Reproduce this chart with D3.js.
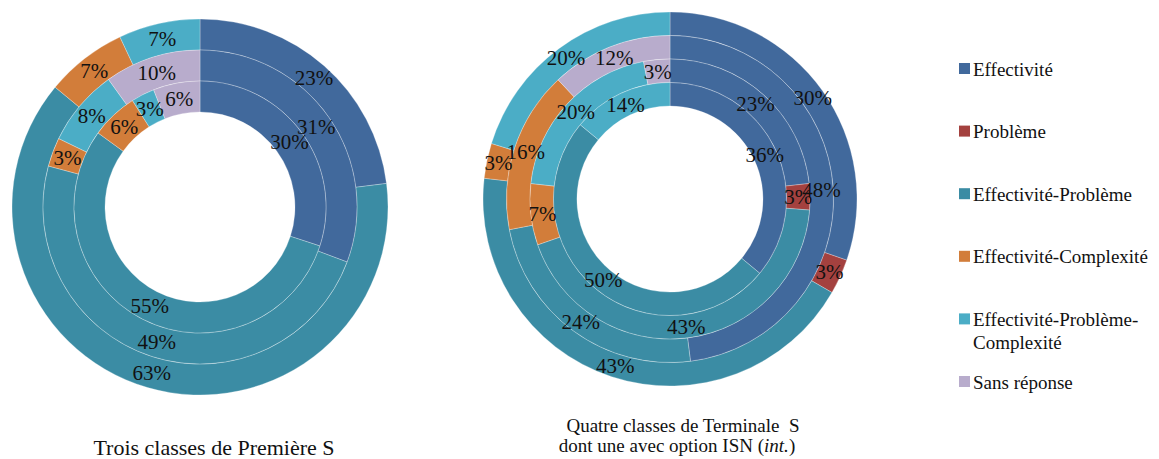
<!DOCTYPE html>
<html>
<head>
<meta charset="utf-8">
<script src="https://cdn.jsdelivr.net/npm/d3@7"></script>
<style>
  body { margin: 0; background: #fff; }
  text { font-family: "Liberation Serif", "Times New Roman", serif; fill: #111; }
</style>
</head>
<body>
<svg id="chart"></svg>
<script>
const categories = ["Effectivité", "Problème", "Effectivité-Problème", "Effectivité-Complexité", "Effectivité-Problème-Complexité", "Sans réponse"];

// Première S : rings from outside to inside
const premiereRing1 = [23, 0, 63, 7, 7, 0];
const premiereRing2 = [31, 0, 49, 3, 8, 10];
const premiereRing3 = [30, 0, 55, 6, 3, 6];

// Terminale S : rings from outside to inside
const terminaleRing1 = [30, 3, 43, 3, 20, 0];
const terminaleRing2 = [48, 0, 24, 16, 0, 12];
const terminaleRing3 = [23, 3, 43, 7, 20, 3];
const terminaleRing4 = [36, 0, 50, 0, 14, 0];

const width = 1159;
const height = 459;

const svg = d3.select("#chart")
  .attr("width", width)
  .attr("height", height);

const color = d3.scaleOrdinal()
  .domain(categories)
  .range(["#41699c", "#a4413f", "#3b8ca4", "#d27d3a", "#4badc6", "#b8accc"]);

const pie = d3.pie().sort(null).value(d => d);

function drawDonut(rings, cx, cy, innerR, outerR) {
  const g = svg.append("g").attr("transform", `translate(${cx},${cy})`);

  // first ring in the list is the outer one
  const ringScale = d3.scaleBand()
    .domain(d3.range(rings.length))
    .range([outerR, innerR]);

  const labels = g.append("g");

  rings.forEach((values, i) => {
    const r0 = ringScale(i);
    const r1 = r0 + ringScale.bandwidth();
    const arc = d3.arc().innerRadius(r0).outerRadius(r1);
    const slices = pie(values)
      .map((s, k) => ({ ...s, cat: categories[k] }))
      .filter(s => s.value > 0);

    g.insert("g", () => labels.node()).selectAll("path")
      .data(slices)
      .enter()
      .append("path")
      .attr("d", arc)
      .attr("fill", d => color(d.cat))
      .attr("stroke", "rgba(255,255,255,0.35)")
      .attr("stroke-width", 0.8);

    labels.append("g").selectAll("text")
      .data(slices)
      .enter()
      .append("text")
      .attr("transform", d => `translate(${arc.centroid(d)})`)
      .attr("text-anchor", "middle")
      .attr("dy", "0.35em")
      .attr("font-size", 21)
      .text(d => d.value + "%");
  });
}

drawDonut([premiereRing1, premiereRing2, premiereRing3], 200, 207, 95, 188);
drawDonut([terminaleRing1, terminaleRing2, terminaleRing3, terminaleRing4], 670, 199, 93, 187);

// titles
svg.append("text")
  .attr("x", 214)
  .attr("y", 455)
  .attr("text-anchor", "middle")
  .attr("font-size", 22)
  .text("Trois classes de Première S");

svg.append("text")
  .attr("x", 683)
  .attr("y", 432)
  .attr("text-anchor", "middle")
  .attr("font-size", 19)
  .text("Quatre classes de Terminale\u00a0 S");

const sub = svg.append("text")
  .attr("x", 677)
  .attr("y", 452)
  .attr("text-anchor", "middle")
  .attr("font-size", 19);
sub.append("tspan").text("dont une avec option ISN (");
sub.append("tspan").attr("font-style", "italic").text("int.");
sub.append("tspan").text(")");

// legend
const legendLines = [["Effectivité"], ["Problème"], ["Effectivité-Problème"], ["Effectivité-Complexité"], ["Effectivité-Problème-", "Complexité"], ["Sans réponse"]];

const legendY = d3.scaleLinear().domain([0, 5]).range([69, 382]);

const legend = svg.append("g");
categories.forEach((c, i) => {
  const y = legendY(i);
  legend.append("rect")
    .attr("x", 959)
    .attr("y", y - 6)
    .attr("width", 11)
    .attr("height", 11)
    .attr("fill", color(c));
  const t = legend.append("text")
    .attr("x", 973)
    .attr("y", y)
    .attr("font-size", 19);
  legendLines[i].forEach((line, j) => {
    t.append("tspan")
      .attr("x", 973)
      .attr("dy", j === 0 ? "0.35em" : "1.2em")
      .text(line);
  });
});
</script>
</body>
</html>
